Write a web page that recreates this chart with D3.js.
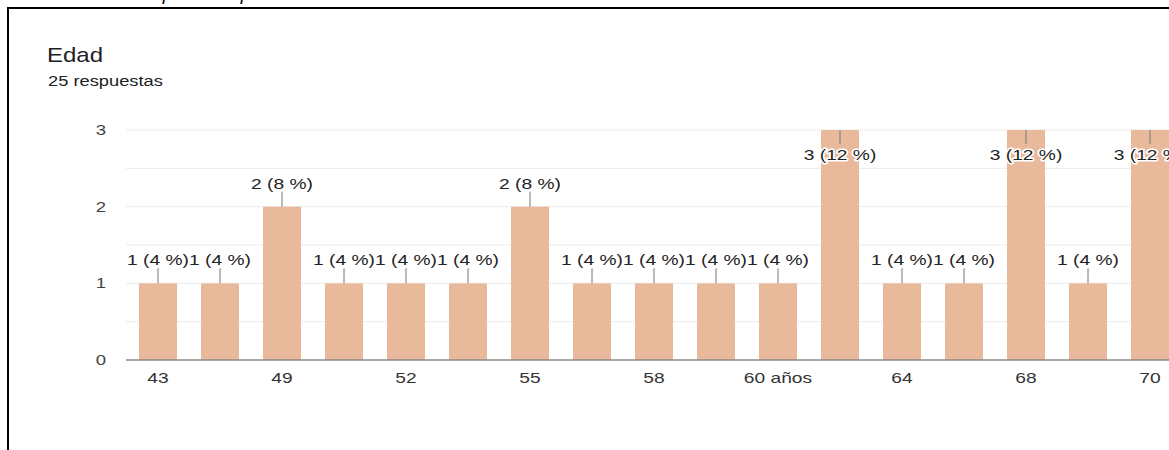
<!DOCTYPE html>
<html>
<head>
<meta charset="utf-8">
<script src="https://cdn.jsdelivr.net/npm/d3@7"></script>
<style>
  html, body { margin: 0; padding: 0; background: #fff; }
  svg { display: block; }
  text { font-family: "Liberation Sans", Arial, sans-serif; }
</style>
</head>
<body>
<svg id="chart" width="1169" height="450"></svg>
<script>
// Age responses (Google Forms style summary)
const categories = ["43", "46", "49", "50", "52", "53", "55", "57", "58", "59",
                    "60 años", "61", "64", "65", "68", "69", "70"];
const counts = [1, 1, 2, 1, 1, 1, 2, 1, 1, 1, 1, 3, 1, 1, 3, 1, 3];
const shownTicks = ["43", "49", "52", "55", "58", "60 años", "64", "68", "70"];
const yTicks = [0, 1, 2, 3];
const gridValues = [0.5, 1, 1.5, 2, 2.5, 3];

const title = "Edad";
const subtitle = "25 respuestas";

const total = d3.sum(counts);
const data = categories.map((c, i) => ({ cat: c, value: counts[i] }));

const svg = d3.select("#chart");
const SX = 1.28; // horizontal text stretch

// stretched text helper
function stext(g, x, y, str, opts = {}) {
  return g.append("text")
    .attr("transform", `translate(${x},${y}) scale(${opts.sx || SX},1)`)
    .attr("text-anchor", opts.anchor || "middle")
    .attr("font-size", opts.size || 15)
    .attr("fill", opts.fill || "#333")
    .text(str);
}

// page frame
svg.append("line").attr("x1", 7).attr("x2", 1169).attr("y1", 8).attr("y2", 8)
  .attr("stroke", "#000").attr("stroke-width", 2);
svg.append("line").attr("x1", 8).attr("x2", 8).attr("y1", 7).attr("y2", 450)
  .attr("stroke", "#000").attr("stroke-width", 2);

// caption line above the frame (only descenders remain visible)
const cap = svg.append("g");
[168, 246].forEach(x => {
  cap.append("text").attr("x", x).attr("y", 0)
    .attr("font-family", "Liberation Serif, serif")
    .attr("font-style", "italic").attr("font-size", 19)
    .attr("fill", "#000").attr("text-anchor", "middle").text("p");
});

// header
stext(svg, 47, 62, title, { anchor: "start", size: 20, fill: "#202124", sx: 1.2 })
  .attr("font-family", "Roboto, 'Liberation Sans', sans-serif");
stext(svg, 48, 86, subtitle, { anchor: "start", size: 15, fill: "#202124", sx: 1.22 })
  .attr("font-family", "Roboto, 'Liberation Sans', sans-serif");

// scales
const step = 62;
const x0 = 127;
const pad = 24 / 62;
const x = d3.scaleBand()
  .domain(categories)
  .range([x0, x0 + step * categories.length])
  .paddingInner(pad)
  .paddingOuter(pad / 2);

const y = d3.scaleLinear().domain([0, 3]).range([360, 130]);

// grid
svg.append("g").selectAll("line").data(gridValues).join("line")
  .attr("x1", 126).attr("x2", 1169)
  .attr("y1", d => y(d)).attr("y2", d => y(d))
  .attr("stroke", "#ebebeb").attr("stroke-width", 1);

// y labels
const yg = svg.append("g");
yTicks.forEach(t => {
  stext(yg, 106, y(t) + 5, String(t), { anchor: "end", size: 14.5, fill: "#444" });
});

// bars
svg.append("g").selectAll("rect").data(data).join("rect")
  .attr("x", d => x(d.cat))
  .attr("width", x.bandwidth())
  .attr("y", d => y(d.value))
  .attr("height", d => y(0) - y(d.value))
  .attr("fill", "#e9b99c");

// baseline axis
svg.append("line").attr("x1", 126).attr("x2", 1169)
  .attr("y1", y(0)).attr("y2", y(0))
  .attr("stroke", "#8a8a8a").attr("stroke-width", 1.5);

// x labels (every other category)
const xg = svg.append("g");
shownTicks.forEach(c => {
  stext(xg, x(c) + x.bandwidth() / 2, 383, c, { size: 15, fill: "#333" });
});

// value annotations with leader lines
const ymax = y.domain()[1];
const ag = svg.append("g");
data.forEach(d => {
  const cx = x(d.cat) + x.bandwidth() / 2;
  const top = y(d.value);
  const label = `${d.value} (${Math.round(d.value / total * 100)} %)`;
  if (d.value < ymax) {
    ag.append("line").attr("x1", cx).attr("x2", cx)
      .attr("y1", top).attr("y2", top - 15)
      .attr("stroke", "#777").attr("stroke-width", 1);
    stext(ag, cx, top - 18, label, { size: 15, fill: "#222" });
  } else {
    ag.append("line").attr("x1", cx).attr("x2", cx)
      .attr("y1", top).attr("y2", top + 14)
      .attr("stroke", "#777").attr("stroke-width", 1);
    stext(ag, cx, top + 30, label, { size: 15, fill: "#222" })
      .attr("stroke", "#fff").attr("stroke-width", 3)
      .attr("paint-order", "stroke").attr("stroke-linejoin", "round");
  }
});
</script>
</body>
</html>
